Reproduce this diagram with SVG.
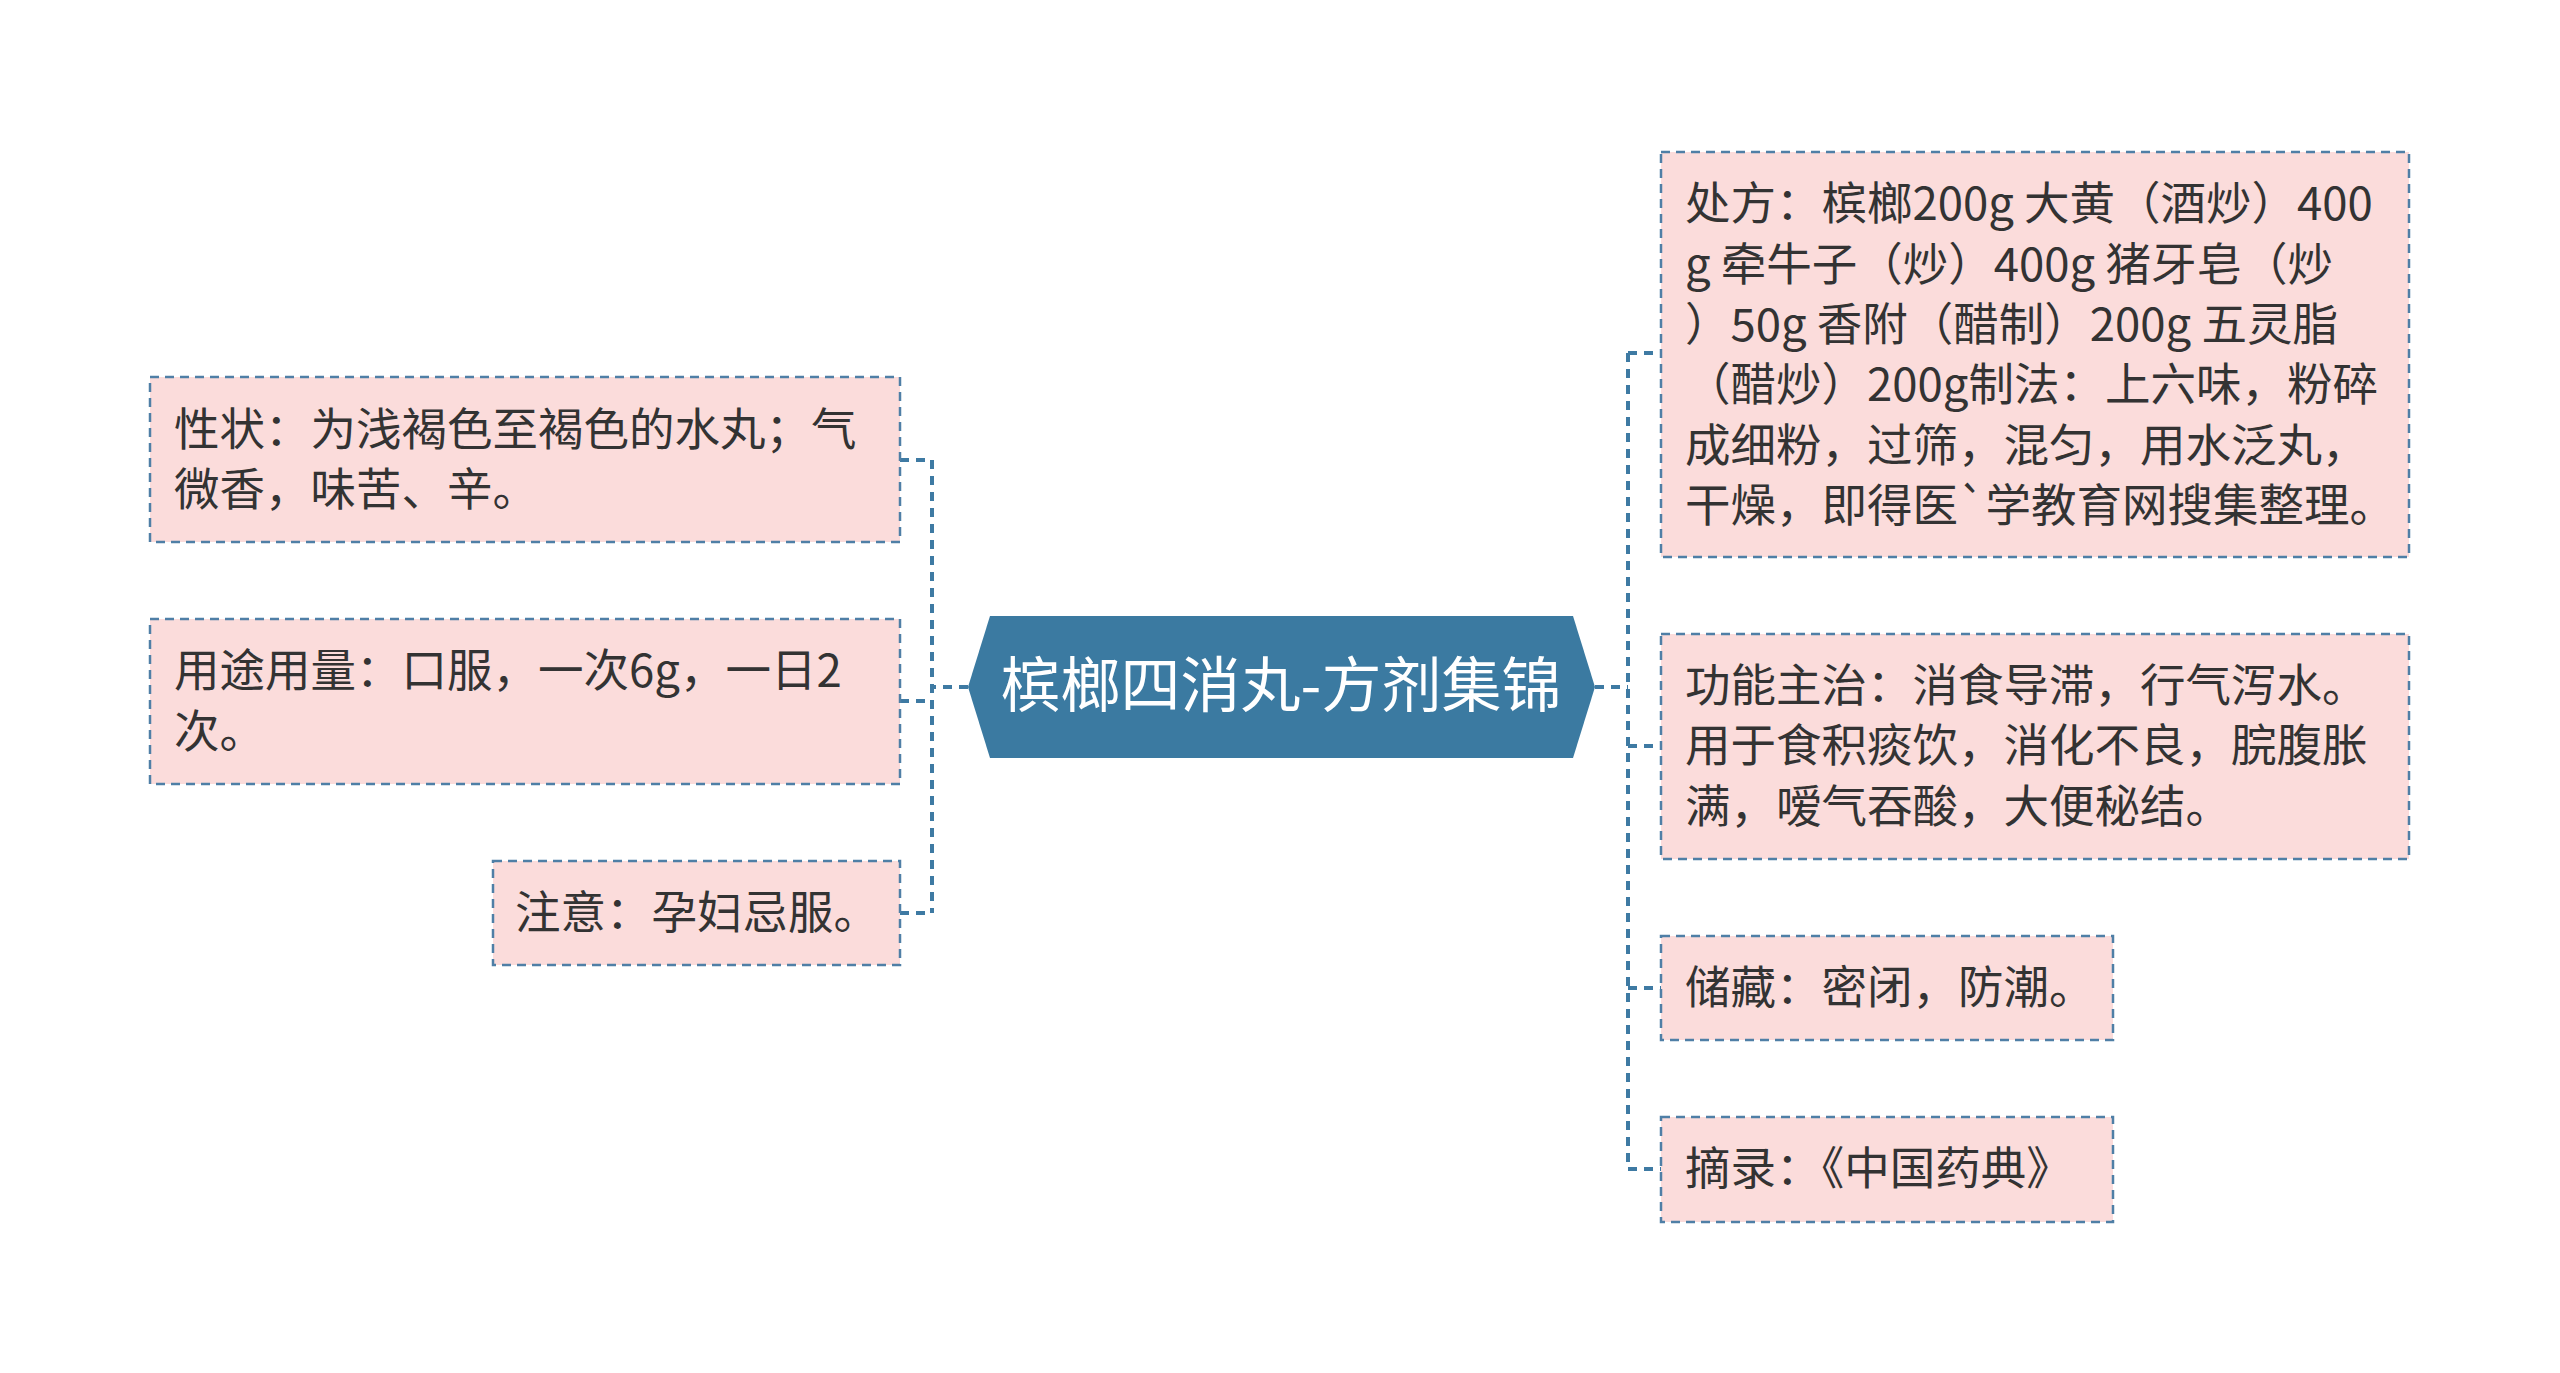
<svg xmlns="http://www.w3.org/2000/svg" width="2560" height="1373" viewBox="0 0 2560 1373">
<style>
.n{fill:#fbdcdb;stroke:#4f7fa6;stroke-width:2.5;stroke-dasharray:9,6}
.t{font-family:"Noto Sans CJK SC","Noto Sans",sans-serif;font-size:45.5px;fill:#333}
.c{fill:none;stroke:#3e7aa3;stroke-width:4;stroke-dasharray:9,7}
</style>
<rect width="2560" height="1373" fill="#fff"/>
<g id="connectors">
<path class="c" d="M968 687H932M932 460V913M900 460H932M900 701H932M900 913H932"/>
<path class="c" d="M1595 687H1628M1628 353V1169M1628 353H1661M1628 746H1661M1628 988H1661M1628 1169H1661"/>
</g>
<g id="center">
<polygon points="968,687 990,616 1573,616 1595,687 1573,758 990,758" fill="#3b7aa1"/>
<text x="1281" y="707" text-anchor="middle" font-family="Noto Sans CJK SC,sans-serif" font-size="60" fill="#fff">槟榔四消丸-方剂集锦</text>
</g>
<g id="l1"><rect class="n" x="150" y="377" width="750" height="165"/>
<text class="t" x="174" y="446">性状：为浅褐色至褐色的水丸；气</text><text class="t" x="174" y="506">微香，味苦、辛。</text></g>
<g id="l2"><rect class="n" x="150" y="619" width="750" height="165"/>
<text class="t" x="174" y="687">用途用量：口服，一次6g，一日2</text><text class="t" x="174" y="748">次。</text></g>
<g id="l3"><rect class="n" x="493" y="861" width="407" height="104"/>
<text class="t" x="515" y="929">注意：孕妇忌服。</text></g>
<g id="r1"><rect class="n" x="1661" y="152" width="748" height="405"/>
<text class="t" x="1685" y="220">处方：槟榔200g 大黄（酒炒）400</text>
<text class="t" x="1685" y="281">g 牵牛子（炒）400g 猪牙皂（炒</text>
<text class="t" x="1685" y="341">）50g 香附（醋制）200g 五灵脂</text>
<text class="t" x="1685" y="401">（醋炒）200g制法：上六味，粉碎</text>
<text class="t" x="1685" y="462">成细粉，过筛，混匀，用水泛丸，</text>
<text class="t" x="1685" y="522">干燥，即得医`学教育网搜集整理。</text></g>
<g id="r2"><rect class="n" x="1661" y="634" width="748" height="225"/>
<text class="t" x="1685" y="702">功能主治：消食导滞，行气泻水。</text>
<text class="t" x="1685" y="762">用于食积痰饮，消化不良，脘腹胀</text>
<text class="t" x="1685" y="823">满，嗳气吞酸，大便秘结。</text></g>
<g id="r3"><rect class="n" x="1661" y="936" width="452" height="104"/>
<text class="t" x="1685" y="1004">储藏：密闭，防潮。</text></g>
<g id="r4"><rect class="n" x="1661" y="1117" width="452" height="105"/>
<text class="t" x="1685" y="1185">摘录：《中国药典》</text></g>
</svg>
